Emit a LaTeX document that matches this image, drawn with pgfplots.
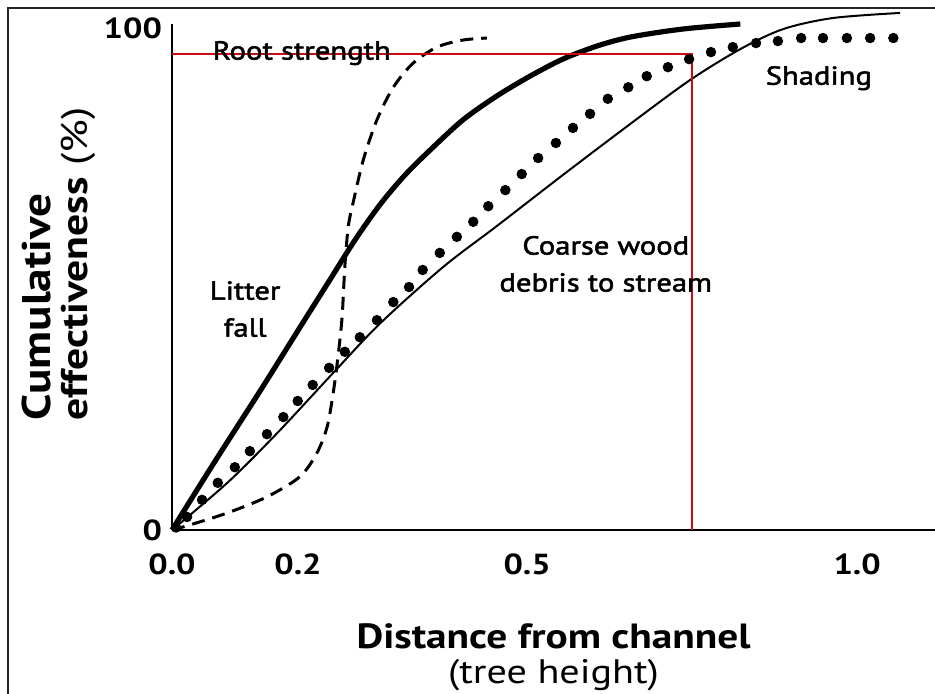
\documentclass[border=0pt]{standalone}
\usepackage{fontspec}
\setmainfont{PT Sans}[FakeStretch=1.18]
\newfontfamily\labelfont{PT Sans}[FakeStretch=1.18, FakeBold=2]
\usepackage{pgfplots}
\pgfplotsset{compat=1.18}
\definecolor{redl}{RGB}{204,10,20}
\begin{document}
\begin{tikzpicture}
\begin{axis}[
  scale only axis, width=381.5pt, height=253pt,
  xmin=0, xmax=1.117, ymin=0, ymax=100.8,
  axis x line=bottom, axis y line=left,
  axis line style={-, line width=1.1pt, black},
  major tick length=0pt,
  xtick={0,0.1845,0.520,1.003}, xticklabels={0.0,0.2,0.5,1.0},
  ytick={0,100}, yticklabels={0,100},
  tick label style={font=\fontsize{14.5}{17}\selectfont\bfseries},
  xticklabel style={yshift=-8.5pt},
  yticklabel style={xshift=-1.5pt},
  xlabel={{\fontsize{17.5}{17.5}\selectfont\bfseries Distance from channel}\\{\fontsize{17}{17.5}\selectfont (tree height)}},
  xlabel style={at={(axis description cs:0.5,-0.251)}, anchor=center, align=center, font=\fontsize{17.5}{17.5}\selectfont},
  ylabel={{\fontsize{20}{18.5}\selectfont\bfseries Cumulative}\\{\fontsize{18.5}{18.5}\selectfont\bfseries effectiveness} {\fontsize{18.5}{18.5}\selectfont(\%)}},
  ylabel style={at={(axis description cs:-0.149,0.526)}, anchor=center, align=left, font=\fontsize{19}{18.5}\selectfont},
  clip=false,
]
% Litter fall (thick solid)
\addplot[black, line width=2.6pt, smooth] coordinates {
 (0,0) (0.063,13.7) (0.129,27.7) (0.187,40.3) (0.231,49.8) (0.268,57.8)
 (0.305,64.9) (0.341,70.7) (0.378,75.7) (0.426,81.7) (0.476,86.5) (0.524,90.4)
 (0.572,93.8) (0.622,96.4) (0.671,98.2) (0.748,99.8) (0.832,100.8)};
% Root strength (dashed)
\addplot[black, line width=1.5pt, dash pattern=on 6.5pt off 4pt, smooth] coordinates {
 (0,0) (0.026,1.0) (0.081,3.4) (0.139,6.6) (0.187,10.6) (0.212,15.3)
 (0.227,20.5) (0.236,27.3) (0.243,34.5) (0.249,42.4) (0.253,52.4) (0.258,60.4)
 (0.265,65.1) (0.280,73.7) (0.300,81.7) (0.324,88.2) (0.353,93.0) (0.388,96.2)
 (0.426,97.6) (0.461,98.0)};
% Coarse wood debris (thin solid)
\addplot[black, line width=1pt, smooth] coordinates {
 (0,0) (0.081,9.4) (0.154,19.3) (0.236,31.3) (0.305,41.2) (0.397,52.4)
 (0.476,60.6) (0.572,70.7) (0.671,80.9) (0.758,89.6) (0.832,95.8)
 (0.895,99.8) (0.968,102.0) (1.066,103.0)};
% Shading (dots)
\addplot[black, only marks, mark=*, mark size=2.4pt] coordinates {
 (0.006,0.5) (0.022,2.6) (0.044,6.0) (0.067,9.4) (0.092,12.5) (0.114,15.7) (0.139,19.1)
 (0.163,22.5) (0.184,25.7) (0.206,28.9) (0.230,32.3) (0.253,35.5) (0.275,38.4)
 (0.300,41.8) (0.324,45.4) (0.347,48.4) (0.367,51.8) (0.392,55.2) (0.417,58.4)
 (0.441,61.4) (0.463,64.5) (0.488,67.7) (0.512,70.9) (0.536,74.1) (0.562,77.1)
 (0.587,80.1) (0.612,82.9) (0.638,85.9) (0.668,88.2) (0.695,90.4) (0.726,92.2)
 (0.757,93.8) (0.789,95.2) (0.821,96.2) (0.855,97.0) (0.887,97.4) (0.921,98.0)
 (0.953,98.0) (0.988,98.0) (1.022,98.0) (1.056,98.0)};
% red guide lines
\addplot[redl, line width=1pt] coordinates {(0,94.8) (0.761,94.8) (0.761,0)};
% labels
\node[font=\labelfont\fontsize{13}{18.5}\selectfont] at (axis cs:0.190,95.0) {Root strength};
\node[font=\labelfont\fontsize{13}{18.5}\selectfont, align=center] at (axis cs:0.107,44.0) {Litter\\fall};
\node[font=\labelfont\fontsize{13}{18.5}\selectfont, align=center] at (axis cs:0.635,53.0) {Coarse wood\\debris to stream};
\node[font=\labelfont\fontsize{13}{18.5}\selectfont] at (axis cs:0.947,90.0) {Shading};
% frame
\draw[line width=1pt, black!85] (axis cs:1.2,103.98) -- (axis cs:-0.2401,103.98) -- (axis cs:-0.2401,-40);
\coordinate (BL) at (axis cs:-0.2518,-32.67);
\coordinate (TR) at (axis cs:1.117,105.58);
\end{axis}
\pgfresetboundingbox
\path[use as bounding box] (BL) rectangle (TR);
\end{tikzpicture}
\end{document}
